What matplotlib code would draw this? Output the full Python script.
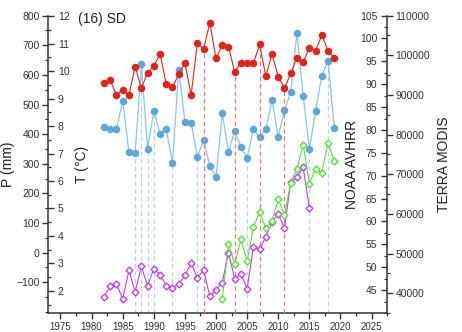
import matplotlib
matplotlib.use('Agg')
import matplotlib.pyplot as plt
from matplotlib.ticker import MultipleLocator

plt.rcParams['font.family'] = ['Liberation Sans', 'DejaVu Sans']

# Данные
years = list(range(1982, 2020))
temp = [9.55, 9.67, 9.13, 9.33, 9.13, 10.16, 9.37, 9.94, 10.18, 10.62,
        9.53, 9.41, 9.89, 10.28, 9.13, 11.03, 10.79, 11.76, 10.46, 10.95,
        10.89, 9.97, 10.30, 10.30, 10.28, 10.97, 9.82, 10.62, 9.79, 9.37,
        9.92, 10.49, 10.32, 10.85, 10.74, 11.31, 10.74, 10.49]
precip = [423, 418, 416, 513, 340, 337, 636, 351, 478, 402,
          416, 304, 617, 442, 438, 323, 380, 293, 255, 471,
          340, 411, 357, 321, 416, 389, 416, 516, 391, 482,
          541, 742, 530, 349, 479, 597, 648, 422]
noaa_years = list(range(1982, 2016))
noaa = [43.5, 45.9, 46.3, 43.1, 49.3, 44.6, 50.2, 45.9, 49.7, 48.4,
        46.0, 45.5, 46.3, 48.2, 50.9, 47.7, 49.4, 43.6, 45.1, 46.6,
        53.2, 47.5, 48.6, 45.3, 54.4, 54.0, 56.6, 59.9, 61.7, 58.5,
        68.6, 69.7, 71.8, 62.9]
modis_years = list(range(2001, 2020))
modis = [38500, 52400, 47400, 53550, 48100, 56600, 60450, 56350, 58300, 63670,
         59820, 67900, 71300, 77400, 67620, 71400, 70400, 77900, 73400]
t_breaks = [1998, 2003, 2007, 2011]
p_breaks = [1987, 1988, 1989, 1990, 1993, 1997, 1998, 2005, 2015, 2018]

RED = '#e2231a'
BLUE = '#5aa8da'
BLUE_LINE = '#86c5ec'
PURPLE = '#c03ff0'
GREEN = '#55e23a'
AX_COL = '#333333'

fig = plt.figure(figsize=(4.62, 3.32), dpi=100)
ax = fig.add_axes([0.104, 0.056, 0.734, 0.897])
ax_t = ax.twinx()
ax_n = ax.twinx()
ax_m = ax.twinx()

ax.set_xlim(1973, 2027.5)
ax.set_ylim(-205, 800)
ax_t.set_ylim(1.18, 12.02)
ax_n.set_ylim(39.9, 105)
ax_m.set_ylim(34900, 110000)

for a in (ax, ax_t, ax_n, ax_m):
    for s in a.spines.values():
        s.set_visible(False)
ax.spines['left'].set_visible(True)
ax.spines['bottom'].set_visible(True)
ax_m.spines['right'].set_visible(True)
for s in (ax.spines['left'], ax.spines['bottom'], ax_m.spines['right']):
    s.set_linewidth(1.1)
    s.set_color(AX_COL)

# вертикальные пунктиры (точки перелома)
t_bot = ax_t.get_ylim()[0]
for y in t_breaks:
    ax_t.vlines(y, t_bot, temp[years.index(y)], colors='#f27878',
                linestyles=(0, (3.5, 2.5)), linewidth=0.9, zorder=1)
p_bot = ax.get_ylim()[0]
for y in p_breaks:
    ax.vlines(y, p_bot, precip[years.index(y)], colors='#add5f0',
              linestyles=(0, (3.5, 2.5)), linewidth=0.9, zorder=1)

# ряды
ax.plot(years, precip, color=BLUE_LINE, lw=0.9, marker='o', ms=4.4,
        mfc=BLUE, mec=BLUE, zorder=3)
ax_t.plot(years, temp, color=RED, lw=0.8, marker='o', ms=4.4,
          mfc=RED, mec=RED, zorder=3)
ax_n.plot(noaa_years, noaa, color=PURPLE, lw=0.8, marker='D', ms=3.5,
          mfc='white', mec=PURPLE, mew=1.0, zorder=3)
ax_m.plot(modis_years, modis, color=GREEN, lw=0.8, marker='D', ms=3.5,
          mfc='white', mec=GREEN, mew=1.0, zorder=3)

# оси и подписи
ax.set_xticks(range(1975, 2030, 5))
ax.xaxis.set_minor_locator(MultipleLocator(2.5))
ax.tick_params(axis='x', which='major', direction='out', length=4, width=1,
               labelsize=7, colors=AX_COL, pad=2)
ax.tick_params(axis='x', which='minor', direction='out', length=2.5, width=0.9,
               colors=AX_COL)

ax.set_yticks(range(-100, 801, 100))
ax.yaxis.set_minor_locator(MultipleLocator(50))
ax.tick_params(axis='y', which='major', direction='out', length=4, width=1,
               labelsize=7.5, colors=AX_COL, pad=2)
ax.tick_params(axis='y', which='minor', direction='out', length=2.5, width=0.9,
               colors=AX_COL)

ax_t.yaxis.set_ticks_position('left')
ax_t.yaxis.set_label_position('left')
ax_t.set_yticks(range(2, 13))
ax_t.yaxis.set_minor_locator(MultipleLocator(0.5))
ax_t.tick_params(axis='y', which='major', direction='in', length=4, width=1,
                 labelsize=7.5, colors=AX_COL, pad=-7, left=True,
                 labelleft=True, right=False, labelright=False)
ax_t.tick_params(axis='y', which='minor', direction='in', length=2.5, width=0.9,
                 colors=AX_COL, left=True, right=False)
for lab in ax_t.get_yticklabels():
    lab.set_horizontalalignment('left')

ax_n.set_yticks(range(45, 106, 5))
ax_n.yaxis.set_minor_locator(MultipleLocator(2.5))
ax_n.tick_params(axis='y', which='major', direction='in', length=4, width=1,
                 labelsize=7.5, colors=AX_COL, pad=-7)
ax_n.tick_params(axis='y', which='minor', direction='in', length=2.5, width=0.9,
                 colors=AX_COL)
for lab in ax_n.get_yticklabels():
    lab.set_horizontalalignment('right')

ax_m.set_yticks(range(40000, 110001, 10000))
ax_m.yaxis.set_minor_locator(MultipleLocator(5000))
ax_m.tick_params(axis='y', which='major', direction='out', length=4, width=1,
                 labelsize=7.5, colors=AX_COL, pad=2)
ax_m.tick_params(axis='y', which='minor', direction='out', length=2.5, width=0.9,
                 colors=AX_COL)

lab_kw = dict(fontsize=10, color='#222222')
ax.set_ylabel('P (mm)', **lab_kw)
ax.yaxis.set_label_coords(-0.097, 0.5)
ax_t.set_ylabel('T (°C)', **lab_kw)
ax_t.yaxis.set_label_coords(0.12, 0.5)
ax_n.set_ylabel('NOAA AVHRR', **lab_kw)
ax_n.yaxis.set_label_coords(0.876, 0.5)
ax_m.set_ylabel('TERRA MODIS', **lab_kw)
ax_m.yaxis.set_label_coords(1.147, 0.5)

ax.text(0.0885, 0.99, '(16) SD', transform=ax.transAxes, fontsize=10,
        color='#222222', ha='left', va='center')

fig.savefig('out.png', dpi=100)
